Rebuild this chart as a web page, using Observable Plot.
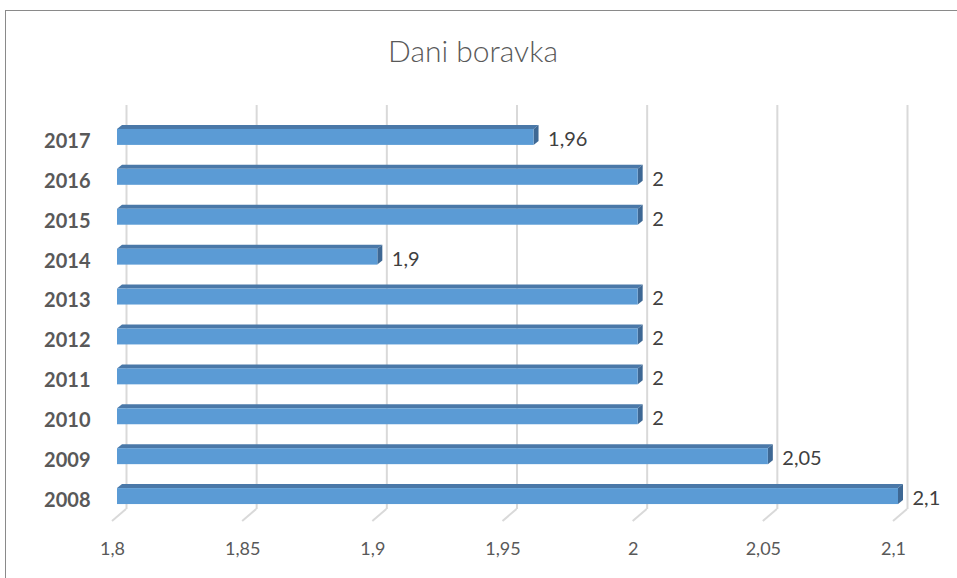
<!DOCTYPE html>
<html><head><meta charset="utf-8">
<script src="https://cdn.jsdelivr.net/npm/d3@7"></script>
<script src="https://cdn.jsdelivr.net/npm/@observablehq/plot@0.6"></script>
<style>
body{margin:0;background:#fff;}
#wrap{position:relative;width:957px;height:578px;overflow:hidden;font-family:Lato,"Open Sans",sans-serif;}
#frame{position:absolute;left:5px;top:10px;width:1000px;height:1000px;border-left:1px solid #8a8a8a;border-top:1px solid #8a8a8a;}
#title{position:absolute;top:32px;left:0;width:946px;text-align:center;font-size:30px;color:#595959;font-weight:300;}
#chart{position:absolute;left:0;top:90px;}
</style></head>
<body>
<div id="wrap"><div id="frame"></div><div id="title">Dani boravka</div><div id="chart"></div></div>
<script>
const years = ["2008","2009","2010","2011","2012","2013","2014","2015","2016","2017"];
const values = [2.1, 2.05, 2, 2, 2, 2, 1.9, 2, 2, 1.96];
const valueLabels = ["2,1","2,05","2","2","2","2","1,9","2","2","1,96"];
const xTicks = [1.8, 1.85, 1.9, 1.95, 2, 2.05, 2.1];
const xTickLabels = ["1,8","1,85","1,9","1,95","2","2,05","2,1"];
const xDomain = [1.8, 2.1];

const data = years.map((y, i) => ({year: y, value: values[i], label: valueLabels[i]}));

const depthX = 5, depthY = 4;
const faces = (index, scales, values, dims) => {
  const sx = scales.x, sy = scales.y;
  const bw = typeof sy.bandwidth === "function" ? sy.bandwidth() : 16;
  const g = d3.create("svg:g");
  for (const d of data) {
    const x0 = sx(xDomain[0]), x1 = sx(d.value), y0 = sy(d.year);
    const y1 = y0 + bw;
    g.append("polygon")
      .attr("points", [[x0, y0], [x0 + depthX, y0 - depthY], [x1 + depthX, y0 - depthY], [x1, y0]].join(" "))
      .attr("fill", "#4a78a8");
    g.append("polygon")
      .attr("points", [[x1, y0], [x1 + depthX, y0 - depthY], [x1 + depthX, y1 - depthY], [x1, y1]].join(" "))
      .attr("fill", "#3e6894");
  }
  return g.node();
};

const floor = (index, scales, values, dims) => {
  const g = d3.create("svg:g");
  const yb = dims.height - dims.marginBottom;
  for (const t of xTicks) {
    const x = scales.x(t);
    g.append("line").attr("x1", x + 9).attr("y1", yb - 19).attr("x2", x - 5).attr("y2", yb - 7)
      .attr("stroke", "#d9d9d9").attr("stroke-width", 2);
  }
  return g.node();
};

const chart = Plot.plot({
  width: 957,
  height: 488,
  marginLeft: 117,
  marginRight: 59,
  marginTop: 15,
  marginBottom: 50,
  style: {fontFamily: 'Lato, "Open Sans", sans-serif', color: "#595959", background: "transparent", overflow: "visible"},
  x: {domain: xDomain, label: null},
  y: {domain: years.slice().reverse(), padding: 0.6, round: false, label: null},
  marks: [
    Plot.ruleX(xTicks, {dx: 9, insetBottom: 19, stroke: "#d9d9d9", strokeWidth: 2}),
    floor,
    faces,
    Plot.barX(data, {x1: () => xDomain[0], x2: "value", y: "year", fill: "#5b9bd5"}),
    Plot.text(data, {x: "value", y: "year", text: "label", textAnchor: "start", dx: 14, dy: 2, fontSize: 20, fill: "#404040"}),
    Plot.axisY({tickSize: 0, tickPadding: 27, fontSize: 20, fontWeight: "bold", dy: 4, label: null}),
    Plot.axisX({ticks: xTicks, tickFormat: d => xTickLabels[xTicks.indexOf(d)], tickSize: 0, tickPadding: 14, dx: -5, fontSize: 18, label: null})
  ]
});
document.getElementById("chart").appendChild(chart);
</script>
</body></html>
